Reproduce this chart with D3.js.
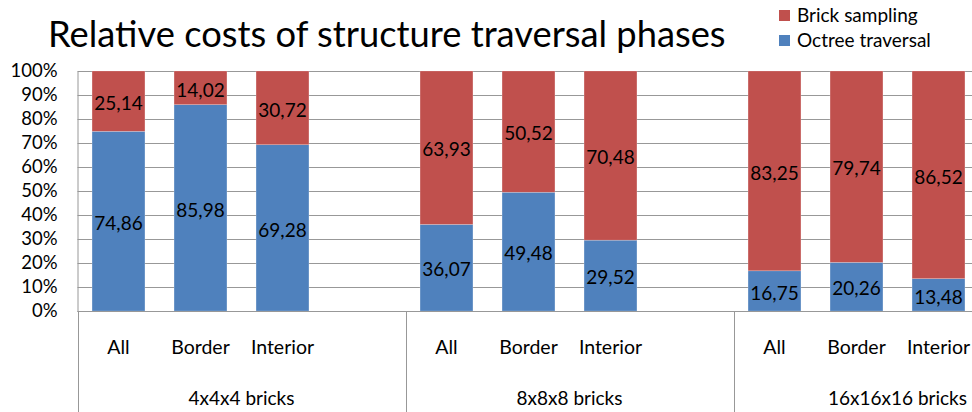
<!DOCTYPE html>
<html>
<head>
<meta charset="utf-8">
<script src="https://cdn.jsdelivr.net/npm/d3@7"></script>
<style>
  html, body { margin: 0; padding: 0; background: #fff; }
  svg { display: block; font-family: Lato, "Open Sans", sans-serif; }
</style>
</head>
<body>
<svg id="chart" width="972" height="412"></svg>
<script>
// Stacked 100% bars: relative cost of octree traversal vs. brick sampling
const groups = ["4x4x4 bricks", "8x8x8 bricks", "16x16x16 bricks"];
const phases = ["All", "Border", "Interior"];
const octreeTraversal = [74.86, 85.98, 69.28, 36.07, 49.48, 29.52, 16.75, 20.26, 13.48];
const brickSampling   = [25.14, 14.02, 30.72, 63.93, 50.52, 70.48, 83.25, 79.74, 86.52];
const seriesNames = ["Brick sampling", "Octree traversal"];
const yTicks = [0, 10, 20, 30, 40, 50, 60, 70, 80, 90, 100];

const colors = { "Octree traversal": "#4F81BD", "Brick sampling": "#C0504D" };

const svg = d3.select("#chart");
const plotLeft = 77.5, plotTop = 71, plotBottom = 311, slot = 82;

// category slots: each group has three bars followed by an empty spacer slot
const slots = [];
groups.forEach((g, gi) => {
  phases.forEach(p => slots.push(`${gi}|${p}`));
  if (gi < groups.length - 1) slots.push(`${gi}|gap`);
});

const x = d3.scaleBand().domain(slots)
  .range([plotLeft, plotLeft + slot * slots.length])
  .paddingInner(0.355).paddingOuter(0.1775);
const y = d3.scaleLinear().domain([0, 100]).range([plotBottom, plotTop]);

const rows = [];
groups.forEach((g, gi) => phases.forEach((p, pi) => {
  const i = gi * phases.length + pi;
  rows.push({ key: `${gi}|${p}`, "Octree traversal": octreeTraversal[i], "Brick sampling": brickSampling[i] });
}));

// gridlines
svg.append("g")
  .selectAll("line").data(yTicks).join("line")
  .attr("x1", plotLeft).attr("x2", 972)
  .attr("y1", d => Math.round(y(d)) + 0.5).attr("y2", d => Math.round(y(d)) + 0.5)
  .attr("stroke", "#989898").attr("stroke-width", 1);

// y axis
const yAxis = svg.append("g").attr("transform", `translate(${plotLeft},0)`)
  .call(d3.axisLeft(y).tickValues(yTicks).tickFormat(d => d + "%").tickSize(0).tickPadding(20));
yAxis.select(".domain").attr("stroke", "#989898");
yAxis.selectAll("text").attr("font-size", 18.5).attr("fill", "#000")
  .attr("font-family", "Lato, sans-serif");

// stacked bars
const stack = d3.stack().keys(["Octree traversal", "Brick sampling"]);
const layers = stack(rows);
const layerG = svg.append("g").selectAll("g").data(layers).join("g")
  .attr("fill", d => colors[d.key]);
layerG.selectAll("rect").data(d => d).join("rect")
  .attr("x", d => x(d.data.key))
  .attr("width", x.bandwidth())
  .attr("y", d => y(d[1]))
  .attr("height", d => y(d[0]) - y(d[1]))
  .attr("stroke", "rgba(255,255,255,0.35)").attr("stroke-width", 0.6);

// value labels centered inside each segment
const fmt = v => v.toFixed(2).replace(".", ",");
svg.append("g").selectAll("g").data(layers).join("g")
  .selectAll("text").data(d => d.map(s => ({ s, key: d.key }))).join("text")
  .attr("x", d => x(d.s.data.key) + x.bandwidth() / 2)
  .attr("y", d => y((d.s[0] + d.s[1]) / 2))
  .attr("dy", "0.46em")
  .attr("text-anchor", "middle")
  .attr("font-size", 19)
  .attr("fill", "#000")
  .text(d => fmt(d.s.data[d.key]));

// category axis
svg.append("line").attr("x1", plotLeft).attr("x2", 972)
  .attr("y1", plotBottom + 0.5).attr("y2", plotBottom + 0.5).attr("stroke", "#989898");
const groupEdges = groups.map((g, gi) => plotLeft + gi * 4 * slot);
svg.append("g").selectAll("line").data(groupEdges).join("line")
  .attr("x1", d => Math.round(d) + 0.5).attr("x2", d => Math.round(d) + 0.5)
  .attr("y1", plotBottom).attr("y2", 412)
  .attr("stroke", "#989898");

svg.append("g").selectAll("text").data(rows).join("text")
  .attr("x", d => x(d.key) + x.bandwidth() / 2)
  .attr("y", 354)
  .attr("text-anchor", "middle")
  .attr("font-size", 19.5).attr("fill", "#000")
  .text(d => d.key.split("|")[1]);

svg.append("g").selectAll("text").data(groups).join("text")
  .attr("x", (d, i) => plotLeft + i * 4 * slot + 2 * slot)
  .attr("y", 405)
  .attr("text-anchor", "middle")
  .attr("font-size", 19).attr("fill", "#000")
  .text(d => d);

// title
svg.append("text").attr("x", 48).attr("y", 47)
  .attr("font-size", 36.3).attr("fill", "#000")
  .text("Relative costs of structure traversal phases");

// legend
const legend = svg.append("g").selectAll("g").data(seriesNames).join("g")
  .attr("transform", (d, i) => `translate(779,${10 + i * 25})`);
legend.append("rect").attr("width", 11).attr("height", 11).attr("fill", d => colors[d]);
legend.append("text").attr("x", 18).attr("y", 11.5)
  .attr("font-size", 19).attr("fill", "#000").text(d => d);
</script>
</body>
</html>
